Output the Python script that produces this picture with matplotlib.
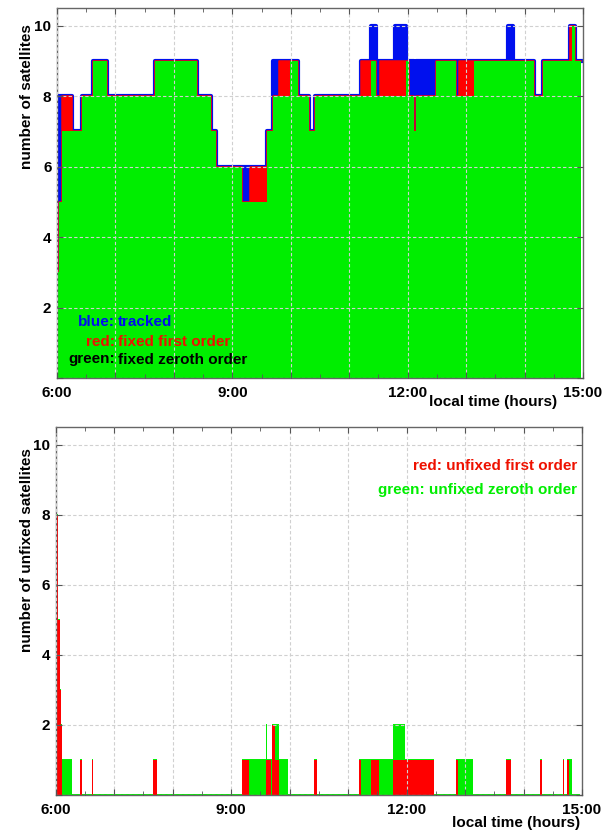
import numpy as np
import matplotlib
matplotlib.use('Agg')
import matplotlib.pyplot as plt
import matplotlib.ticker as ticker

plt.rcParams['font.family'] = ['Liberation Sans', 'DejaVu Sans']
plt.rcParams['font.weight'] = 'bold'

BLUE = '#0010ee'
RED = '#ff0000'
GREEN = '#00ee00'

# top panel: step series (start time in hours, value)
t_top = [6.000, 6.035, 6.080, 6.250, 6.420, 6.620, 6.850, 7.675, 8.390, 8.630,
         8.720, 9.170, 9.300, 9.600, 9.690, 9.800, 9.980, 10.120, 10.310, 10.420,
         11.210, 11.380, 11.450, 11.530, 11.790, 11.980, 12.020, 12.100, 12.150, 12.480,
         12.830, 12.870, 13.140, 13.710, 13.800, 14.160, 14.310, 14.770, 14.820, 14.870]
tracked = [8, 8, 8, 7, 8, 9, 8, 9, 8, 7,
           6, 6, 6, 7, 9, 9, 9, 8, 7, 8,
           9, 10, 9, 9, 10, 9, 9, 8, 9, 9,
           9, 9, 9, 10, 9, 8, 9, 10, 10, 9]
fixed_first = [3, 5, 8, 7, 8, 9, 8, 9, 8, 7,
               6, 5, 6, 7, 8, 9, 9, 8, 7, 8,
               9, 9, 8, 9, 9, 9, 8, 7, 8, 9,
               8, 9, 9, 9, 9, 8, 9, 10, 10, 9]
fixed_zeroth = [3, 5, 7, 7, 8, 9, 8, 9, 8, 7,
                6, 5, 5, 7, 8, 8, 9, 8, 7, 8,
                8, 9, 8, 8, 8, 9, 8, 7, 8, 9,
                8, 8, 9, 9, 9, 8, 9, 9, 10, 9]
t_end = 14.96

# bottom panel
t_bot = [6.000, 6.050, 6.070, 6.088, 6.106, 6.277, 6.424, 6.448, 6.624, 6.646,
         7.672, 7.730, 9.183, 9.313, 9.593, 9.615, 9.678, 9.706, 9.757, 9.826,
         9.980, 10.419, 10.465, 11.193, 11.222, 11.388, 11.530, 11.775, 11.974, 12.476,
         12.846, 12.880, 13.142, 13.695, 13.781, 14.282, 14.316, 14.675, 14.698, 14.749,
         14.783, 14.829]
unfixed_first = [8, 5, 3, 2, 0, 0, 1, 0, 1, 0,
                 1, 0, 1, 0, 1, 1, 0, 2, 1, 0,
                 0, 1, 0, 1, 0, 1, 0, 1, 1, 0,
                 1, 0, 0, 1, 0, 1, 0, 1, 0, 1,
                 0, 0]
unfixed_zeroth = [8, 5, 3, 2, 1, 0, 1, 0, 1, 0,
                  1, 0, 1, 1, 2, 1, 1, 2, 2, 1,
                  0, 1, 0, 1, 1, 1, 1, 2, 1, 0,
                  1, 1, 0, 1, 0, 1, 0, 1, 0, 1,
                  1, 0]


def steps(t, v):
    x = list(t) + [t_end]
    y = list(v) + [v[-1]]
    return x, y


def draw(ax, t, v, color, lw, z, edge='step'):
    x, y = steps(t, v)
    ax.fill_between(x, 0, y, step='post', color=color, lw=0, zorder=z)
    if lw <= 0:
        return
    if edge == 'step':
        ax.step(x, y, where='post', color=color, lw=lw, zorder=z + 0.05)
    else:
        # only the flat tops
        ax.hlines(v, x[:-1], x[1:], color=color, lw=lw, zorder=z + 0.05)


def style(ax):
    ax.set_xlim(6, 15)
    ax.set_ylim(0, 10.5)
    ax.xaxis.set_major_locator(ticker.MultipleLocator(1))
    ax.xaxis.set_minor_locator(ticker.MultipleLocator(0.5))
    ax.xaxis.set_major_formatter(ticker.FuncFormatter(
        lambda v, p: '%d:00' % round(v) if abs(v % 3) < 1e-6 else ''))
    ax.yaxis.set_major_locator(ticker.MultipleLocator(2))
    ax.yaxis.set_major_formatter(ticker.FuncFormatter(
        lambda v, p: '' if v < 1 else '%d' % v))
    ax.tick_params(which='both', direction='in', top=True, right=True,
                   color='#555555', labelsize=11)
    ax.tick_params(which='major', length=4)
    ax.tick_params(which='minor', length=3)
    ax.tick_params(axis='x', pad=6)
    ax.tick_params(axis='y', pad=4)
    for s in ax.spines.values():
        s.set_color('#666666')
        s.set_linewidth(1)
    ax.set_axisbelow(False)
    ax.grid(True, which='major', color='#d0d0d0', linestyle=(0, (3, 2)), lw=0.8)


fig = plt.figure(figsize=(6.14, 8.32), dpi=100)
ax1 = fig.add_axes([57/614, 1-378/832, 526/614, 370/832])
ax2 = fig.add_axes([55.5/614, 1-795/832, 526.5/614, 368/832])

# top: tracked / fixed first / fixed zeroth, each layer over the previous
draw(ax1, t_top, tracked, BLUE, 3.0, 1.0)
draw(ax1, t_top, fixed_first, RED, 1.1, 1.2)
draw(ax1, t_top, fixed_zeroth, GREEN, 0, 1.4)
style(ax1)

# bottom: unfixed
draw(ax2, t_bot, unfixed_zeroth, GREEN, 1.4, 1.0, edge='h')
draw(ax2, t_bot, unfixed_first, RED, 0, 1.2)
style(ax2)

# legend-like labels
def tr(x, y):
    return x/614, 1-y/832

for txt1, txt2, col, y in [('blue:', 'tracked', BLUE, 326.5),
                           ('red:', 'fixed first order', '#ee1100', 346),
                           ('green:', 'fixed zeroth order', 'black', 363.5)]:
    fig.text(*tr(115, y), txt1, color=col, fontsize=11, ha='right', va='baseline', zorder=5)
    fig.text(*tr(118, y), txt2, color=col, fontsize=11, ha='left', va='baseline', zorder=5)

fig.text(*tr(577, 470), 'red: unfixed first order', color='#ee1100',
         fontsize=11, ha='right', va='baseline')
fig.text(*tr(577, 494), 'green: unfixed zeroth order', color=GREEN,
         fontsize=11, ha='right', va='baseline')

fig.text(*tr(27, 96.5), 'number of satellites', rotation=90, fontsize=11,
         ha='center', va='center')
fig.text(*tr(27, 550.5), 'number of unfixed satellites', rotation=90, fontsize=11,
         ha='center', va='center')
fig.text(*tr(557, 402), 'local time (hours)', fontsize=11, ha='right', va='center')
fig.text(*tr(580, 823), 'local time (hours)', fontsize=11, ha='right', va='center')

fig.savefig('out.png', dpi=100, facecolor='white')
